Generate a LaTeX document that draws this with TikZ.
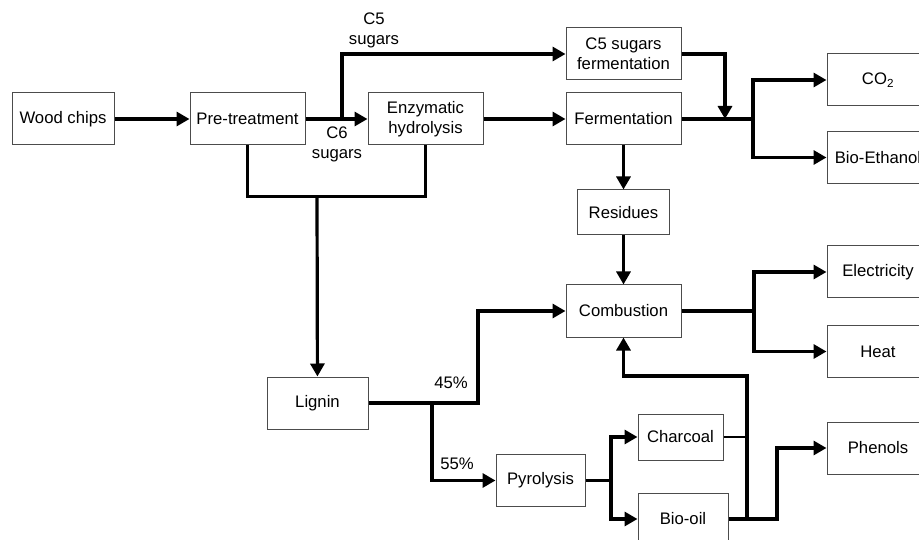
\documentclass[tikz,border=0pt]{standalone}
\usepackage{fontspec}
\setmainfont{Liberation Sans}
\usetikzlibrary{arrows.meta}

\tikzset{
  blk/.style={draw=black!70, line width=1pt, fill=white, minimum height=52pt,
    inner sep=2pt, align=center, font=\fontsize{16.7}{20}\selectfont},
  flowline/.style={line width=3.2pt},
  flow/.style={flowline, -{Triangle[length=13pt,width=14pt]}},
  lbl/.style={align=center, inner sep=0pt, font=\fontsize{16.7}{20}\selectfont}
}

\begin{document}
\begin{tikzpicture}[x=1pt,y=-1pt]
            \useasboundingbox (0,0) rectangle (919,540);

             %boxes
            \node[blk, minimum width=102pt] (wood) at (63,119) {Wood chips};
            \node[blk, minimum width=115pt] (pretreat) at (247.5,119) {Pre-treatment};
            \node[blk, minimum width=115pt] (hydro) at (425.5,119) {Enzymatic\\hydrolysis};
            \node[blk, minimum width=115pt] (cfive) at (623.5,54) {C5 sugars\\fermentation};
            \node[blk, minimum width=115pt] (ferm) at (623.5,119) {Fermentation};
            \node[blk, minimum width=92pt, minimum height=45pt] (resid) at (623.5,212.5) {Residues};
            \node[blk, minimum width=115pt] (comb) at (623.5,311) {Combustion};
            \node[blk, minimum width=101pt] (lignin) at (317.5,403) {Lignin};
            \node[blk, minimum width=89pt] (pyro) at (540.5,480.5) {Pyrolysis};
            \node[blk, minimum width=85pt, minimum height=46pt] (char) at (680.5,437) {Charcoal};
            \node[blk, minimum width=90pt] (oil) at (683,519) {Bio-oil};

             %products
            \node[blk, minimum width=102pt] (co2) at (878,80) {CO\textsubscript{2}};
            \node[blk, minimum width=102pt] (ethanol) at (878,157.5) {Bio-Ethanol};
            \node[blk, minimum width=102pt] (elec) at (878,272) {Electricity};
            \node[blk, minimum width=102pt] (heat) at (878,351.5) {Heat};
            \node[blk, minimum width=102pt] (phen) at (878,448) {Phenols};

             %labels
            \node[lbl] (c5lbl) at (374,30) {C5\\sugars};
            \node[lbl] (c6lbl) at (337,144) {C6\\sugars};
            \node[lbl] (pct45) at (451,383) {45\%};
            \node[lbl] (pct55) at (457,464) {55\%};

             %junctions
            \coordinate (split) at (342,119);
            \coordinate (merge) at (725,119);
            \coordinate (fork) at (753,119);
            \coordinate (ligtop) at (317,196);
            \coordinate (ligfork) at (432,403);
            \coordinate (pyfork) at (611,480.5);
            \coordinate (combfork) at (754,311);
            \coordinate (oilfork) at (747,519);

             %sugar line
            \draw[flow] (wood) -- (pretreat);
            \draw[flow] (pretreat) -- (hydro);
            \draw[flow] (split) |- (cfive);
            \draw[flow] (hydro) -- (ferm);
            \draw[flow] (cfive.east) -| (merge);
            \draw[flowline] (ferm) -- (fork);
            \draw[flow] (fork) |- (co2);
            \draw[flow] (fork) |- (ethanol);
            \draw[flow] (ferm) -- (resid);
            \draw[flow] (resid) -- (comb);
            \draw[flowline] (comb) -- (combfork);
            \draw[flow] (combfork) |- (elec);
            \draw[flow] (combfork) |- (heat);

             %lignin line
            \draw[flowline] (pretreat.south) -- ++(0,51) -| (hydro.south);
            \draw[flow] (ligtop) -- (lignin);
            \draw[flowline] (lignin) -- (ligfork);
            \draw[flow] (ligfork) -- ++(46,0) |- (comb);
            \draw[flow] (ligfork) |- (pyro);
            \draw[flowline] (pyro) -- (pyfork);
            \draw[flow] (pyfork) |- (char);
            \draw[flow] (pyfork) |- (oil);
            \draw[flowline] (oil) -- (oilfork);
            \draw[flow] (oilfork) -- ++(0,-143) -| (comb.south);
            \draw[line width=2pt] (char) -- (char -| oilfork);
            \draw[flow] (oilfork) -- ++(30,0) |- (phen);
\end{tikzpicture}
\end{document}
